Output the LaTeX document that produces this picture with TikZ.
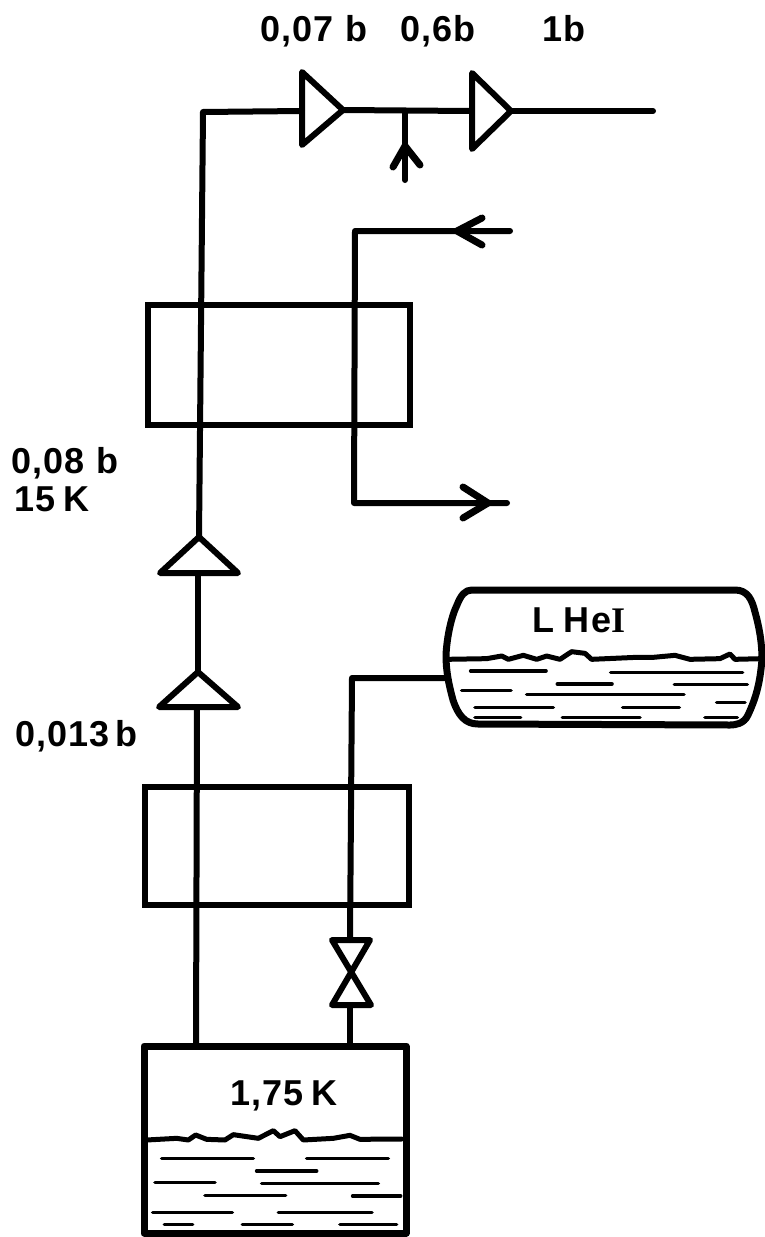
\documentclass[tikz,border=0pt]{standalone}
\usepackage{fontspec}
\setmainfont[LetterSpace=3,BoldFont={Liberation Sans Bold}]{Liberation Sans}
\newfontfamily\romanfont{Liberation Serif Bold}
\tikzset{
  pipe/.style={line width=6pt,line cap=round,line join=round,black},
  heavy/.style={line width=7pt,line join=round,line cap=round,black},
  thin wave/.style={line width=3.6pt,line cap=round,black},
  lab/.style={anchor=base west,inner sep=0pt,outer sep=0pt,font=\fontsize{36}{36}\selectfont\bfseries},
  boxshape/.style={draw,line width=6pt,inner sep=0pt,outer sep=0pt,anchor=north west},
}
\begin{document}
\begin{tikzpicture}[x=1pt,y=-1pt]
\useasboundingbox (0,0) rectangle (764,1237);
% coordinates
\coordinate (c1) at (203,112);
\coordinate (a1) at (302,111);
\coordinate (a1o) at (343,110);
\coordinate (j) at (405,111);
\coordinate (a2) at (470,111);
\coordinate (a2o) at (511,111);
\coordinate (out) at (653,111);
\coordinate (jin) at (405,180);
\coordinate (r0) at (510,231);
\coordinate (rc) at (355,231);
\coordinate (rd) at (354,503);
\coordinate (r1) at (507,503);
\coordinate (t1) at (199,537);
\coordinate (t1b) at (198,573);
\coordinate (t2) at (198,672);
\coordinate (t2b) at (197,707);
\coordinate (t3) at (196,1046);
\coordinate (h0) at (446,678);
\coordinate (hc) at (352,678);
\coordinate (v0) at (350,940);
\coordinate (v1) at (350,1005);
\coordinate (v2) at (350,1046);
% boxes
\node[boxshape,minimum width=262pt,minimum height=120pt] (hxa) at (148,305) {};
\node[boxshape,minimum width=264pt,minimum height=118pt] (hxb) at (145,787) {};
% connectors
\draw[pipe] (t1) -- (c1) -- (a1);
\draw[pipe] (a1o) -- (a2);
\draw[pipe] (a2o) -- (out);
\draw[pipe] (j) -- (jin);
\draw[pipe] (r0) -- (rc) -- (rd) -- (r1);
\draw[pipe] (t1b) -- (t2);
\draw[pipe] (t2b) -- (t3);
\draw[pipe] (h0) -- (hc) -- (v0);
\draw[pipe] (v1) -- (v2);
% compressors
\draw[pipe] (302,72) -- (343,110) -- (302,145) -- cycle;
\draw[pipe] (472,73) -- (511,111) -- (472,149) -- cycle;
\draw[pipe] (t1) -- (238,573) -- (160,573) -- cycle;
\draw[pipe] (t2) -- (238,707) -- (159,707) -- cycle;
% arrow heads
\draw[pipe,line width=7pt] (393,167) -- (405,146) -- (420,165);
\draw[pipe,line width=7pt] (482,218) -- (457,231) -- (482,245);
\draw[pipe,line width=7pt] (463,487) -- (488,503) -- (463,518);
% valve
\draw[pipe] (332,940) -- (370,940) -- (332,1005) -- (371,1005) -- cycle;
% bottom tank
\draw[heavy] (144,1046) rectangle (406,1233);
\begin{scope}[shift={(130,1030)},x=0.3333pt,y=-0.3333pt]
\draw[pipe,line width=5pt] (50,330) -- (140,325) -- (175,330) -- (197,315) -- (230,328) -- (285,330) -- (310,314) -- (385,325) -- (430,302) -- (450,320) -- (495,302) -- (520,330) -- (610,325) -- (660,316) -- (690,328) -- (815,327);
\foreach \xa/\xb/\yy in {95/370/386,530/775/386,380/560/423,75/255/458,395/745/460,225/467/497,668/812/498,68/307/547,445/726/547,103/188/583,337/487/583,630/800/583}
  \draw[thin wave] (\xa,\yy) -- (\xb,\yy);
\end{scope}
% top-right vessel
\draw[heavy] (472,590) -- (735,590) .. controls (748,590) and (752,600) .. (755,612) .. controls (760,630) and (762,645) .. (762,659) .. controls (760,685) and (755,700) .. (748,715) .. controls (744,724) and (735,725) .. (730,725) -- (478,724) .. controls (465,724) and (458,715) .. (453,700) .. controls (449,685) and (446,672) .. (446,655) .. controls (447,635) and (452,615) .. (457,605) .. controls (461,595) and (465,590) .. (472,590) -- cycle;
\begin{scope}[shift={(430,570)},x=0.3333pt,y=-0.3333pt]
\draw[pipe,line width=5pt] (50,268) -- (170,266) -- (215,258) -- (235,268) -- (280,256) -- (320,268) -- (350,258) -- (390,268) -- (425,245) -- (465,250) -- (485,268) -- (620,262) -- (670,262) -- (735,256) -- (780,268) -- (870,266) -- (900,252) -- (915,268) -- (995,266);
\foreach \xa/\xb/\yy in {122/348/303,542/938/307,382/546/342,733/952/344,95/243/362,290/762/373,135/370/413,578/748/412,860/945/398,135/272/443,397/630/442,825/922/443}
  \draw[thin wave] (\xa,\yy) -- (\xb,\yy);
\end{scope}
% labels
\node[lab] (l1) at (260,41) {0,07\hspace{12pt}b};
\node[lab] (l2) at (400,41) {0,6b};
\node[lab] (l3) at (542,41) {1b};
\node[lab] (l4) at (11,473) {0,08\hspace{12pt}b};
\node[lab] (l5) at (14,511) {15\hspace{8pt}K};
\node[lab] (l6) at (15,746) {0,013\hspace{6pt}b};
\node[lab] (l7) at (230,1105) {1,75\hspace{8pt}K};
\node[lab] (l8) at (532,632) {L\hspace{10pt}He{\romanfont I}};
\end{tikzpicture}
\end{document}
